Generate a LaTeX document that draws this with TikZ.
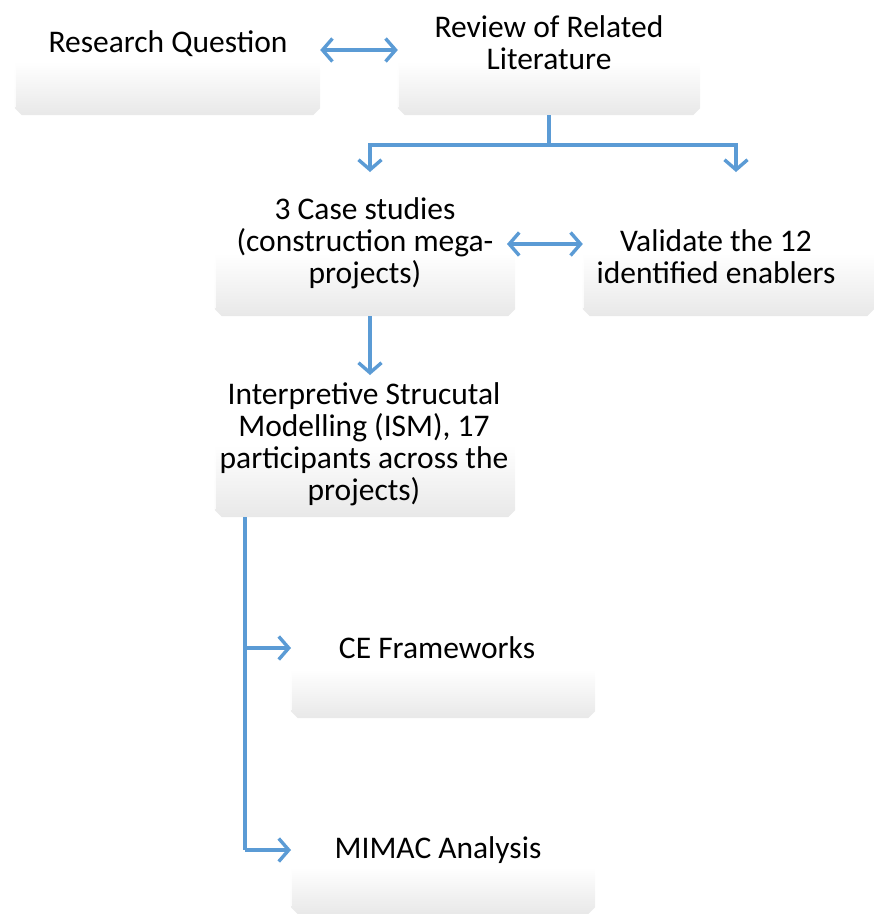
\documentclass[tikz,border=0pt]{standalone}
\usepackage{fontspec}
\setmainfont{Carlito}
\usetikzlibrary{arrows.meta}
\definecolor{flowblue}{HTML}{5B9BD5}
% soft grey fade: grey at the bottom, white in the upper half
\pgfdeclareverticalshading{boxfade}{100bp}{color(0bp)=(black!14); color(25bp)=(black!9); color(50bp)=(white); color(100bp)=(white)}
\tikzset{
  frame/.style={rectangle, inner sep=0pt, draw=none},
  label text/.style={font=\fontsize{31.5}{32}\selectfont, align=center, inner sep=0pt, text=black},
  conn/.style={draw=flowblue, line width=3.4pt, line join=miter},
  tipped/.style={conn, -{Straight Barb[length=10pt, width=23pt, line width=3.4pt]}},
  twoway/.style={conn, {Straight Barb[length=10pt, width=23pt, line width=3.4pt]}-{Straight Barb[length=10pt, width=23pt, line width=3.4pt]}},
}
% bevelled panel behind a frame node
\newcommand{\bevelpanel}[1]{%
  \path[shading=boxfade]
    (#1.north west) -- (#1.north east) -- ([yshift=7pt]#1.south east)
    -- ([xshift=-7pt]#1.south east) -- ([xshift=7pt]#1.south west)
    -- ([yshift=7pt]#1.south west) -- cycle;
  \draw[white, line width=1.2pt, opacity=0.8]
    ([xshift=1pt,yshift=8pt]#1.south west) -- ([xshift=1pt,yshift=-45pt]#1.north west);
}
\begin{document}
\begin{tikzpicture}[x=1pt, y=-1pt]
\useasboundingbox (0,0) rectangle (874,914);

% panels
\node[frame, minimum width=305pt, minimum height=107pt] (rq)  at (167.5,61.5) {};
\node[frame, minimum width=302pt, minimum height=107pt] (rrl) at (549,61.5) {};
\node[frame, minimum width=300pt, minimum height=126pt] (cs)  at (365,253) {};
\node[frame, minimum width=291pt, minimum height=126pt] (val) at (728.5,253) {};
\node[frame, minimum width=300pt, minimum height=145pt] (ism) at (365,444.5) {};
\node[frame, minimum width=304pt, minimum height=98pt]  (ce)  at (443,669) {};
\node[frame, minimum width=304pt, minimum height=94pt]  (mim) at (443,867) {};
\foreach \n in {rq,rrl,cs,val,ism,ce,mim} {\bevelpanel{\n}}

% texts
\node[label text] (rqt)  at (168,44) {Research Question};
\node[label text] (rrlt) at (549,43) {Review of Related\\Literature};
\node[label text] (cst)  at (365,243) {3 Case studies\\(construction mega-\\projects)};
\node[label text] (valt) at (716,257) {Validate the 12\\identified enablers};
\node[label text] (ismt) at (364,444) {Interpretive Strucutal\\Modelling (ISM), 17\\participants across the\\projects)};
\node[label text] (cet)  at (437,648) {CE Frameworks};
\node[label text] (mimt) at (438,850) {MIMAC Analysis};

% connectors
\coordinate (split) at (549,145);
\coordinate (csin)  at (370,172);
\coordinate (valin) at (736,172);
\coordinate (ismin) at (370,375);
\coordinate (trunk) at (245,0);
\coordinate (cein)  at (291,648);
\coordinate (mimin) at (291,850);

\draw[twoway] (rq.east |- 0,50) -- (rrl.west |- 0,50);
\draw[conn] (rrl.south) -- (split);
\draw[tipped] (split) -| (csin);
\draw[tipped] (split) -| (valin);
\draw[twoway] (507,244) -- (val.west |- 0,244);
\draw[tipped] (cs.south -| ismin) -- (ismin);
\draw[conn] (ism.south -| trunk) -- (trunk |- mimin);
\draw[tipped] (trunk |- cein) -- (cein);
\draw[tipped] (trunk |- mimin) -- (mimin);
\end{tikzpicture}
\end{document}
